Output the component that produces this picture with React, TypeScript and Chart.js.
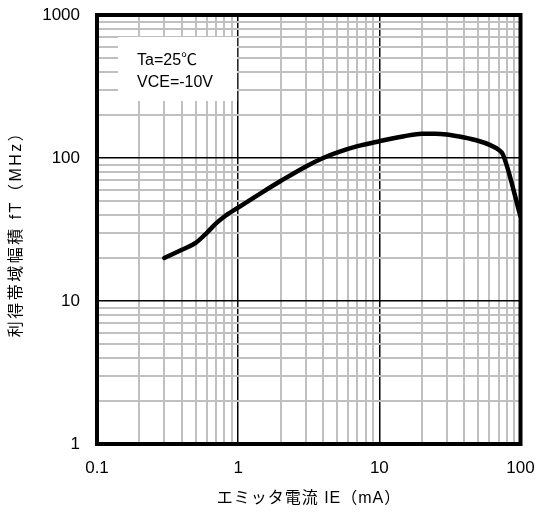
import React, { useEffect, useRef } from "react";
import { Chart, registerables } from "chart.js";

Chart.register(...registerables);

// Emitter current IE (mA)
const emitterCurrent = [0.3, 0.4, 0.5, 0.6, 0.7, 0.8, 1, 1.5, 2, 3, 4, 5, 7, 10, 15, 20, 25, 30, 40, 50, 60, 70, 75, 100];
// Gain-bandwidth product fT (MHz)
const transitionFreq = [20, 22.8, 25.5, 30, 35, 39, 45, 58, 69, 87, 100, 109, 121, 131, 142, 148, 148, 146, 139, 132, 124, 114, 106, 39];

const xTickLabels = ["0.1", "1", "10", "100"];
const yTickLabels = ["1", "10", "100", "1000"];
const xTitle = "エミッタ電流 IE（mA）";
const yTitle = "利得帯域幅積 fT（MHz）";
const conditionLines = ["Ta=25℃", "VCE=-10V"];

const FONT = "'Liberation Sans', 'Noto Sans CJK JP', sans-serif";

const isDecade = (v: number) => {
  const l = Math.log10(v);
  return Math.abs(l - Math.round(l)) < 1e-9;
};

const logTicks = (min: number, max: number) => {
  const out: { value: number }[] = [];
  for (let e = Math.round(Math.log10(min)); e <= Math.round(Math.log10(max)); e++) {
    for (let m = 1; m <= 9; m++) {
      const v = parseFloat((m * Math.pow(10, e)).toPrecision(6));
      if (v >= min - 1e-12 && v <= max + 1e-12) out.push({ value: v });
    }
  }
  return out;
};

const clearPadding = (s: any) => {
  s.paddingTop = 0;
  s.paddingBottom = 0;
  s.paddingLeft = 0;
  s.paddingRight = 0;
};

const decorPlugin = {
  id: "decor",
  beforeDatasetsDraw(chart: any) {
    const { ctx, chartArea, scales } = chart;
    const xOne = scales.x.getPixelForValue(1);
    const left = chartArea.left + 21;
    const top = chartArea.top + 22;
    ctx.save();
    ctx.fillStyle = "#ffffff";
    ctx.fillRect(left, top, xOne - left - 1, 64);
    ctx.fillStyle = "#000000";
    ctx.font = `16px ${FONT}`;
    ctx.textBaseline = "alphabetic";
    ctx.textAlign = "left";
    ctx.fillText(conditionLines[0], left + 19, top + 28);
    ctx.fillText(conditionLines[1], left + 19, top + 50);
    ctx.restore();
  },
  afterDraw(chart: any) {
    const { ctx, chartArea } = chart;
    ctx.save();
    ctx.strokeStyle = "#000000";
    ctx.lineWidth = 4;
    ctx.strokeRect(
      chartArea.left,
      chartArea.top,
      chartArea.right - chartArea.left,
      chartArea.bottom - chartArea.top
    );
    ctx.fillStyle = "#000000";
    ctx.font = `16px ${FONT}`;
    ctx.textBaseline = "middle";
    ctx.textAlign = "center";
    (ctx as any).letterSpacing = "1px";
    ctx.fillText(xTitle, 309, 499);
    ctx.translate(17, 230);
    ctx.rotate(-Math.PI / 2);
    (ctx as any).letterSpacing = "2.5px";
    ctx.fillText(yTitle, 0, 0);
    ctx.restore();
  },
};

export default function App() {
  const canvasRef = useRef<HTMLCanvasElement | null>(null);

  useEffect(() => {
    if (!canvasRef.current) return;
    const chart = new Chart(canvasRef.current, {
      type: "line",
      data: {
        datasets: [
          {
            data: emitterCurrent.map((x, i) => ({ x, y: transitionFreq[i] })),
            borderColor: "#000000",
            borderWidth: 4.5,
            pointRadius: 0,
            fill: false,
            cubicInterpolationMode: "monotone",
            borderCapStyle: "round",
            borderJoinStyle: "round",
          },
        ],
      },
      options: {
        responsive: false,
        animation: false,
        events: [],
        layout: { padding: { top: 15, right: 18.5, left: 0, bottom: 0 } },
        plugins: { legend: { display: false }, tooltip: { enabled: false }, title: { display: false } },
        scales: {
          x: {
            type: "logarithmic",
            min: 0.1,
            max: 100,
            afterBuildTicks: (s: any) => {
              s.ticks = logTicks(0.1, 100);
            },
            afterFit: (s: any) => {
              s.height = 69;
              clearPadding(s);
            },
            grid: {
              drawTicks: false,
              color: (c: any) => (c.tick && isDecade(c.tick.value) ? "#000000" : "#c0c0c0"),
              lineWidth: (c: any) => (c.tick && isDecade(c.tick.value) ? 1.5 : 2),
            },
            border: { display: false },
            ticks: {
              autoSkip: false,
              maxRotation: 0,
              padding: 14,
              color: "#000000",
              font: { family: FONT, size: 17 },
              callback: (v: any) => {
                const idx = Math.round(Math.log10(Number(v))) + 1;
                return isDecade(Number(v)) ? xTickLabels[idx] : "";
              },
            },
          },
          y: {
            type: "logarithmic",
            min: 1,
            max: 1000,
            afterBuildTicks: (s: any) => {
              s.ticks = logTicks(1, 1000);
            },
            afterFit: (s: any) => {
              s.width = 97;
              clearPadding(s);
            },
            grid: {
              drawTicks: false,
              color: (c: any) => (c.tick && isDecade(c.tick.value) ? "#000000" : "#c0c0c0"),
              lineWidth: (c: any) => (c.tick && isDecade(c.tick.value) ? 1.5 : 2),
            },
            border: { display: false },
            ticks: {
              autoSkip: false,
              padding: 17,
              color: "#000000",
              font: { family: FONT, size: 17 },
              callback: (v: any) => {
                const idx = Math.round(Math.log10(Number(v)));
                return isDecade(Number(v)) ? yTickLabels[idx] : "";
              },
            },
          },
        },
      },
      plugins: [decorPlugin],
    } as any);
    return () => chart.destroy();
  }, []);

  return (
    <div style={{ position: "absolute", left: 0, top: 0, width: 539, height: 513, background: "#ffffff" }}>
      <canvas ref={canvasRef} width={539} height={513} style={{ width: 539, height: 513, display: "block" }} />
    </div>
  );
}
